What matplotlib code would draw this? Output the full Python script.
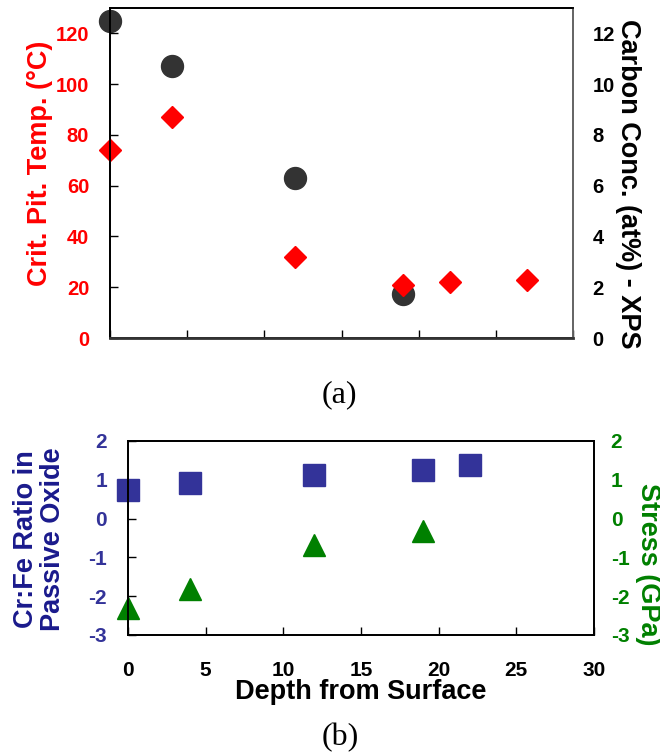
import matplotlib
matplotlib.use("Agg")
import matplotlib.pyplot as plt
from matplotlib.ticker import MultipleLocator

plt.rcParams['font.family'] = ['Liberation Sans', 'DejaVu Sans']
plt.rcParams['font.weight'] = 'bold'
plt.rcParams['axes.unicode_minus'] = False

# (a) critical pitting temperature and surface carbon vs. depth
cpt_depth = [0, 4, 12, 19, 22, 27]
cpt_temp = [74, 87, 32, 21, 22, 23]
carbon_depth = [0, 4, 12, 19]
carbon_conc = [12.5, 10.7, 6.3, 1.75]

# (b) passive oxide Cr:Fe ratio and residual stress vs. depth
ratio_depth = [0, 4, 12, 19, 22]
crfe_ratio = [0.74, 0.93, 1.12, 1.25, 1.38]
stress_depth = [0, 4, 12, 19]
stress_gpa = [-2.3, -1.82, -0.68, -0.32]

RED = '#ff0000'
DARK = '#333333'
BLUE = '#333399'
NAVY = '#1a1a8c'
GREEN = '#008000'

fig = plt.figure(figsize=(6.6, 7.55), dpi=100)

def style_spines(ax, right_color='black'):
    for side in ('left', 'bottom', 'top'):
        ax.spines[side].set_linewidth(1.3)
        ax.spines[side].set_color('black')
    ax.spines['right'].set_linewidth(1.3)
    ax.spines['right'].set_color(right_color)

# ---------- panel (a) ----------
ax = fig.add_axes([110 / 660, 1 - 338 / 755, 463 / 660, 330 / 755])
ax2 = ax.twinx()
ax.set_zorder(ax2.get_zorder() + 1)
ax.patch.set_visible(False)

ax2.plot(carbon_depth, carbon_conc, 'o', ms=15.8, color=DARK, mec=DARK,
         clip_on=False)
ax.plot(cpt_depth, cpt_temp, 'D', ms=11.2, color=RED, mec=RED, clip_on=False)

ax.set_xlim(0, 30)
ax.set_ylim(0, 130)
ax2.set_ylim(0, 13)
ax.xaxis.set_major_locator(MultipleLocator(5))
ax.set_yticks(range(0, 121, 20))
ax2.set_yticks(range(0, 13, 2))
ax.tick_params(axis='x', direction='in', length=6, width=1, labelbottom=False)
ax.tick_params(axis='y', direction='in', length=6, width=1, pad=15,
               labelsize=14.5, labelcolor=RED)
ax2.tick_params(axis='y', direction='in', length=0, pad=14,
                labelsize=14.5, labelcolor='black')
ax.set_ylabel('Crit. Pit. Temp. (°C)', color=RED, fontsize=19.5,
              fontweight='bold', va='center')
ax.yaxis.set_label_coords(-0.151, 0.529)
ax2.set_ylabel('Carbon Conc. (at%) - XPS', color='black', fontsize=19.5,
               fontweight='bold', rotation=-90, va='center')
ax2.yaxis.set_label_coords(1.119, 0.468)
style_spines(ax, '#666666')
style_spines(ax2, '#666666')
ax.spines['bottom'].set_linewidth(2)
ax.spines['bottom'].set_color('#333333')

fig.text(339 / 660, 1 - 395 / 755, '(a)', family='Liberation Serif',
         fontweight='normal', fontsize=23, ha='center', va='center')

# ---------- panel (b) ----------
bx = fig.add_axes([128 / 660, 1 - 635 / 755, 466 / 660, 194 / 755])
bx2 = bx.twinx()

bx.plot(ratio_depth, crfe_ratio, 's', ms=15.6, color=BLUE, mec=BLUE,
        clip_on=False)
bx2.plot(stress_depth, stress_gpa, '^', ms=16, color=GREEN, mec=GREEN,
         clip_on=False)

bx.set_xlim(0, 30)
bx.set_ylim(-3, 2)
bx2.set_ylim(-3, 2)
bx.xaxis.set_major_locator(MultipleLocator(5))
bx.set_yticks(range(-3, 3))
bx2.set_yticks(range(-3, 3))
bx.tick_params(axis='x', direction='in', length=6, width=1, pad=19,
               labelsize=15, labelcolor='black')
bx.tick_params(axis='y', direction='in', length=6, width=1, pad=15,
               labelsize=15, labelcolor=BLUE)
bx2.tick_params(axis='y', direction='in', length=0, pad=12,
                labelsize=15, labelcolor=GREEN)
bx.set_xlabel('Depth from Surface', fontsize=19.5, fontweight='bold',
              va='center')
bx.xaxis.set_label_coords(0.499, -0.294)
bx.set_ylabel('Cr:Fe Ratio in\nPassive Oxide', color=NAVY, fontsize=19.5,
              fontweight='bold', linespacing=1.05, va='center')
bx.yaxis.set_label_coords(-0.189, 0.495)
bx2.set_ylabel('Stress (GPa)', color=GREEN, fontsize=19.5, fontweight='bold',
               rotation=-90, va='center')
bx2.yaxis.set_label_coords(1.116, 0.364)
style_spines(bx)
style_spines(bx2)

fig.text(340 / 660, 1 - 738 / 755, '(b)', family='Liberation Serif',
         fontweight='normal', fontsize=23, ha='center', va='center')

fig.savefig('out.png', dpi=100)
